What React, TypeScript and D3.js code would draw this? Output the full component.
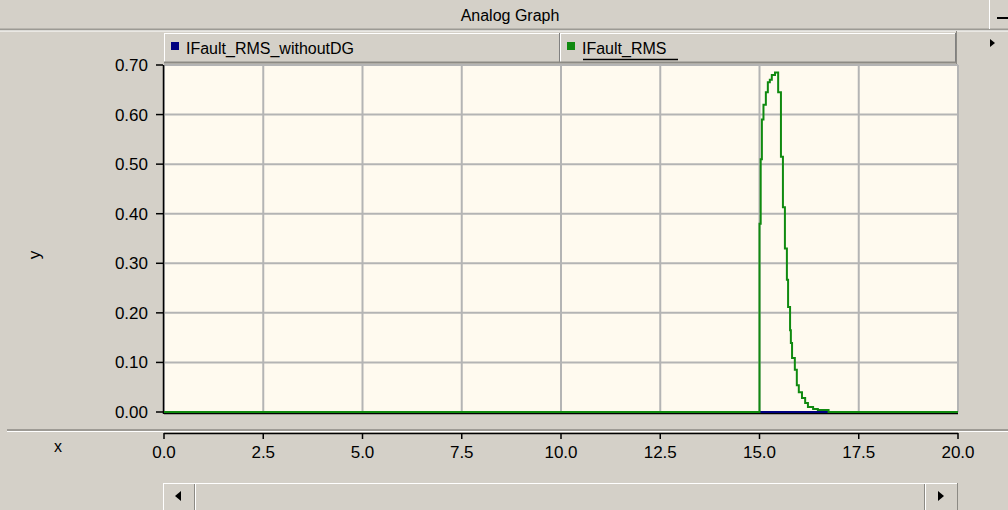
import { useMemo } from "react";
import * as d3 from "d3";

const W = 1008;
const H = 510;
const PLOT = { left: 164, right: 958, top: 65, bottom: 412 };
const BG = "#d4d0c8";
const FONT = "'Liberation Sans', Arial, sans-serif";

// time (s) and sampled values, step-after
const timeS = [
  0, 15.0, 15.03, 15.06, 15.1, 15.16, 15.21, 15.26, 15.31, 15.39, 15.47,
  15.54, 15.59, 15.64, 15.69, 15.72, 15.77, 15.79, 15.82, 15.89, 15.94, 15.99,
  16.07, 16.15, 16.22, 16.35, 16.47, 16.74, 20.0,
];
const iFaultRms = [
  0, 0.38, 0.51, 0.59, 0.62, 0.645, 0.665, 0.67, 0.68, 0.685, 0.645, 0.515,
  0.413, 0.33, 0.267, 0.212, 0.165, 0.139, 0.109, 0.085, 0.054, 0.04, 0.028,
  0.018, 0.01, 0.006, 0.004, 0, 0,
];
const timeWithoutDG = [0, 20.0];
const iFaultRmsWithoutDG = [0, 0];

const xTicks = [0, 2.5, 5, 7.5, 10, 12.5, 15, 17.5, 20];
const yTicks = [0, 0.1, 0.2, 0.3, 0.4, 0.5, 0.6, 0.7];

const seriesNames = ["IFault_RMS_withoutDG", "IFault_RMS"];
const seriesColors = ["#000080", "#108a10"];

const App = () => {
  const x = useMemo(
    () => d3.scaleLinear().domain([0, 20]).range([PLOT.left, PLOT.right]),
    []
  );
  const y = useMemo(
    () => d3.scaleLinear().domain([0, 0.7]).range([PLOT.bottom, PLOT.top]),
    []
  );

  const line = d3
    .line<[number, number]>()
    .x((d) => x(d[0]))
    .y((d) => y(d[1]))
    .curve(d3.curveStepAfter);

  const blueData = timeWithoutDG.map((t, i) => [t, iFaultRmsWithoutDG[i]] as [number, number]);
  const greenData = timeS.map((t, i) => [t, iFaultRms[i]] as [number, number]);

  const legendCells = [
    { x0: 164, x1: 560 },
    { x0: 560, x1: 956 },
  ];

  return (
    <svg
      width={W}
      height={H}
      style={{ position: "absolute", left: 0, top: 0, display: "block" }}
      fontFamily={FONT}
    >
      <rect x={0} y={0} width={W} height={H} fill={BG} />

      {/* title bar */}
      <text x={510} y={21} textAnchor="middle" fontSize={16} fill="#000">
        Analog Graph
      </text>
      <line x1={0} x2={W} y1={29.5} y2={29.5} stroke="#9c9a94" strokeWidth={2} />
      <line x1={0} x2={W} y1={31} y2={31} stroke="#fff" strokeWidth={1} />
      <line x1={989.5} x2={989.5} y1={0} y2={29} stroke="#fff" />
      <line x1={997} x2={1008} y1={18} y2={18} stroke="#000" strokeWidth={2} />

      {/* legend */}
      {legendCells.map((c, i) => (
        <g key={i}>
          <rect x={c.x0} y={33} width={c.x1 - c.x0} height={29} fill={BG} />
          <line x1={c.x0 + 0.5} x2={c.x0 + 0.5} y1={33} y2={62} stroke="#fff" />
          <line x1={c.x0} x2={c.x1} y1={33.5} y2={33.5} stroke="#fff" />
          <line x1={c.x1 - 0.5} x2={c.x1 - 0.5} y1={33} y2={62} stroke="#808080" />
          <rect x={c.x0 + 7} y={42} width={8} height={8} fill={seriesColors[i]} />
          <text x={c.x0 + 22} y={54} fontSize={16} fill="#000">
            {seriesNames[i]}
          </text>
        </g>
      ))}
      <line x1={164} x2={956} y1={62.5} y2={62.5} stroke="#8c8a84" strokeWidth={2} />
      <line x1={583} x2={678} y1={59.5} y2={59.5} stroke="#000" strokeWidth={1.5} />
      <line x1={956.5} x2={956.5} y1={31} y2={64} stroke="#8c8a84" />
      <path d="M990,39 L995,43 L990,47 Z" fill="#000" />

      {/* plot area */}
      <rect
        x={PLOT.left}
        y={PLOT.top}
        width={PLOT.right - PLOT.left}
        height={PLOT.bottom - PLOT.top}
        fill="#fffaef"
      />
      {xTicks.map((t) => (
        <line
          key={"gx" + t}
          x1={x(t)}
          x2={x(t)}
          y1={PLOT.top}
          y2={PLOT.bottom}
          stroke="#b4b4b4"
          strokeWidth={2}
        />
      ))}
      {yTicks.map((t) => (
        <line
          key={"gy" + t}
          x1={PLOT.left}
          x2={PLOT.right}
          y1={y(t)}
          y2={y(t)}
          stroke="#b4b4b4"
          strokeWidth={2}
        />
      ))}
      <line x1={PLOT.left} x2={PLOT.right} y1={413.5} y2={413.5} stroke="#000" strokeWidth={1.5} />
      <line x1={163.5} x2={163.5} y1={PLOT.top} y2={414} stroke="#000" strokeWidth={1.5} />

      {/* data */}
      <path d={line(blueData) ?? ""} fill="none" stroke={seriesColors[0]} strokeWidth={2} />
      <path d={line(greenData) ?? ""} fill="none" stroke={seriesColors[1]} strokeWidth={2} />

      {/* y axis */}
      {yTicks.map((t) => (
        <g key={"yt" + t}>
          <line x1={156} x2={163} y1={y(t)} y2={y(t)} stroke="#000" strokeWidth={1.5} />
          <text
            x={148}
            y={y(t)}
            dy="0.35em"
            textAnchor="end"
            fontSize={17}
            fill="#000"
          >
            {d3.format(".2f")(t)}
          </text>
        </g>
      ))}
      <text
        transform="translate(40,255) rotate(-90)"
        textAnchor="middle"
        fontSize={17}
        fill="#000"
      >
        y
      </text>

      {/* separator */}
      <line x1={7} x2={W} y1={430} y2={430} stroke="#8c8a84" strokeWidth={1.5} />
      <line x1={7} x2={W} y1={431.5} y2={431.5} stroke="#fff" strokeWidth={1} />

      {/* x axis */}
      <line x1={PLOT.left} x2={PLOT.right} y1={433.5} y2={433.5} stroke="#000" strokeWidth={1.5} />
      {xTicks.map((t) => (
        <g key={"xt" + t}>
          <line x1={x(t)} x2={x(t)} y1={433} y2={439} stroke="#000" strokeWidth={1.5} />
          <text x={x(t)} y={458} textAnchor="middle" fontSize={17} fill="#000">
            {d3.format(".1f")(t)}
          </text>
        </g>
      ))}
      <text x={58} y={452} textAnchor="middle" fontSize={16} fill="#000">
        x
      </text>

      {/* scrollbar */}
      <rect x={163} y={483} width={795} height={24} fill={BG} />
      <line x1={163} x2={958} y1={483.5} y2={483.5} stroke="#fff" />
      <line x1={163.5} x2={163.5} y1={483} y2={510} stroke="#fff" />
      <line x1={195.5} x2={195.5} y1={484} y2={510} stroke="#fff" />
      <line x1={194.5} x2={194.5} y1={484} y2={510} stroke="#8c8a84" />
      <line x1={925.5} x2={925.5} y1={484} y2={510} stroke="#fff" />
      <line x1={924.5} x2={924.5} y1={484} y2={510} stroke="#8c8a84" />
      <line x1={957.5} x2={957.5} y1={483} y2={510} stroke="#8c8a84" />
      <path d="M175,496 L181,491 L181,501 Z" fill="#000" />
      <path d="M944,496 L938,491 L938,501 Z" fill="#000" />
    </svg>
  );
};

export default App;
